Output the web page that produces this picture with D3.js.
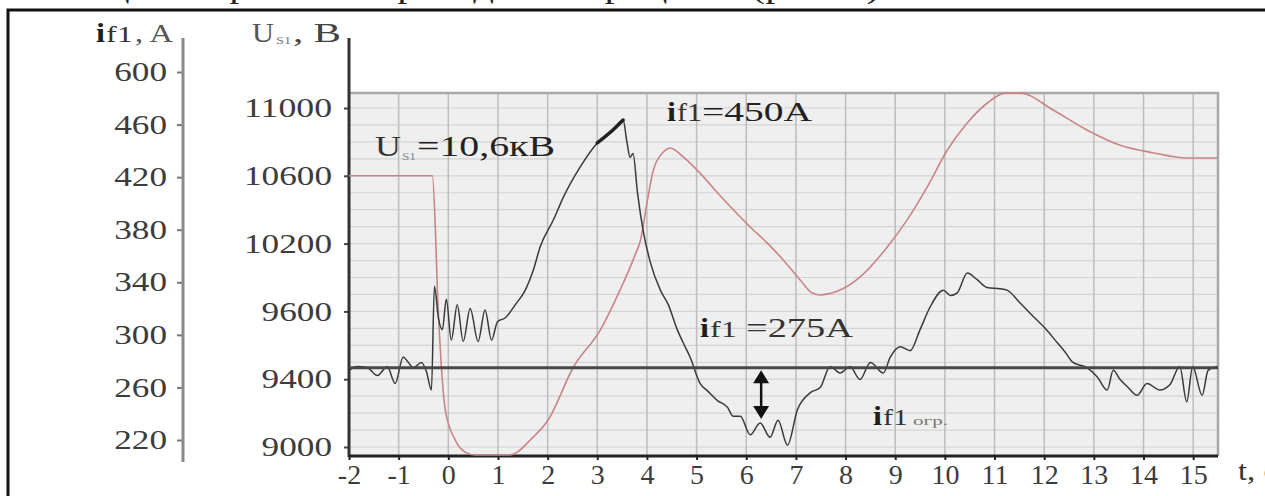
<!DOCTYPE html>
<html lang='ru'>
<head>
<meta charset='UTF-8'/>
<title>D3: i_f1 / U_S1</title>
<script src='https://cdn.jsdelivr.net/npm/d3@7'></script>
<style>
	body {margin: 0; background: #fff;}
	svg {display: block; font-family: 'Liberation Serif', 'DejaVu Serif', serif;}
	.axis text {fill: #3c3c3c;}
</style>
</head>
<body>
<div class='graph'></div>
<script>
	// t, c
	const tTicks = d3.range(-2, 16);
	// U_S1, B  (labels as printed on the scan, evenly spaced)
	const uTicks = [9000, 9400, 9600, 10200, 10600, 11000];
	// i_f1, A
	const iTicks = [220, 260, 300, 340, 380, 420, 460, 600];

	// U_S1 (red)
	const redT = [-2, -0.32, -0.26, -0.22, -0.16, -0.06, 0.14, 0.34, 0.54, 1.25, 1.39, 1.65, 2.01, 2.52, 3.06,
		3.46, 3.76, 3.87, 4.01, 4.13, 4.33, 4.47, 4.73, 5.07, 5.42, 5.74, 6.08, 6.42, 6.78, 7.09, 7.33,
		7.49, 7.65, 7.89, 8.29, 8.84, 9.24, 9.64, 10.05, 10.45, 10.85, 11.21, 11.52, 12.18, 12.86,
		13.53, 14.19, 14.88, 15.48];
	const redU = [10600, 10600, 10280, 9792, 9486, 9218, 9041, 8970, 8953, 8953, 8970, 9041, 9159, 9436, 9545,
		9790, 10098, 10220, 10456, 10634, 10740, 10764, 10712, 10616, 10500, 10400, 10298, 10204, 10038, 9876, 9762,
		9745, 9755, 9790, 9904, 10170, 10340, 10532, 10752, 10912, 11028, 11088, 11088, 10988, 10870,
		10780, 10736, 10705, 10705];

	// i_f1 (black)
	const blackT = [-2, -1.83, -1.63, -1.43, -1.23, -1.07, -0.91, -0.70, -0.54, -0.44, -0.34, -0.28, -0.20, -0.12,
		-0.04, 0.06, 0.18, 0.30, 0.44, 0.60, 0.74, 0.87, 0.99, 1.15, 1.35, 1.55, 1.71, 1.85, 2.11, 2.32, 2.66,
		3.00, 3.32, 3.52, 3.60, 3.66, 3.72, 3.81, 3.93, 4.07, 4.27, 4.43, 4.61, 4.73, 4.87, 5.07, 5.23, 5.42,
		5.62, 5.74, 5.88, 6.08, 6.28, 6.48, 6.64, 6.83, 7.03, 7.29, 7.49, 7.69, 7.89, 8.09, 8.29, 8.50, 8.76,
		8.90, 9.10, 9.30, 9.50, 9.70, 9.97, 10.11, 10.25, 10.45, 10.65, 10.85, 11.11, 11.25, 11.52, 11.78,
		12.02, 12.22, 12.42, 12.58, 12.86, 13.07, 13.27, 13.39, 13.53, 13.69, 13.87, 14.07, 14.33, 14.53,
		14.73, 14.87, 14.99, 15.18, 15.30, 15.48];
	const blackI = [273, 276, 275, 269, 276, 263, 283, 275, 279, 272, 258, 337, 313, 304,
		327, 296, 323, 295, 320, 295, 319, 296, 310, 313, 323, 334, 349, 367, 387, 405, 428,
		446, 456, 472, 446, 435, 438, 408, 378, 355, 334, 323, 304, 294, 283, 263, 257, 250,
		245, 238, 238, 224, 233, 222, 235, 216, 243, 256, 260, 276, 271, 276, 266, 279, 271,
		283, 291, 288, 304, 321, 334, 330, 332, 347, 342, 336, 335, 334, 324, 314,
		305, 296, 287, 279, 275, 268, 258, 273, 266, 260, 254, 263, 258, 262,
		276, 249, 276, 254, 273, 276];

	// reference level and the arrow to i_f1 огр.
	const iRef = 275;
	const arrowT = 6.3;
	const arrowI = [273, 236];

	var width = 1265, height = 496;
	var plot = {left: 349, right: 1218, top: 93, bottom: 456};

	var svg = d3.select('.graph')
		.append('svg')
		.attr('width', width)
		.attr('height', height);

	// scales
	const x = d3.scaleLinear().domain([-2, 15.5]).range([plot.left, plot.right]);
	const uIdx = d3.scaleLinear().domain([0, uTicks.length - 1]).range([447, 108]);
	const yU = d3.scaleLinear().domain(uTicks).range(uTicks.map((d, i) => uIdx(i)));
	const iIdx = d3.scaleLinear().domain([0, iTicks.length - 1]).range([440, 72]);
	const yI = d3.scaleLinear().domain(iTicks).range(iTicks.map((d, i) => iIdx(i)));

	// cut caption line above the frame
	svg.append('text')
		.attr('x', 60).attr('y', -2)
		.attr('textLength', 820).attr('lengthAdjust', 'spacingAndGlyphs')
		.style('font-size', '30px').attr('fill', '#222')
		.text('Осциллограммы переходного процесса (рис. 4)');

	// outer frame
	svg.append('rect')
		.attr('x', 8).attr('y', 10)
		.attr('width', width + 20).attr('height', height + 20)
		.attr('fill', 'none').attr('stroke', '#111').attr('stroke-width', 3);

	// plot background + grid
	svg.append('rect')
		.attr('x', plot.left).attr('y', plot.top)
		.attr('width', plot.right - plot.left).attr('height', plot.bottom - plot.top)
		.attr('fill', '#efefef');

	svg.append('g').selectAll('line')
		.data(d3.range(0, 5.01, 0.25))
		.join('line')
		.attr('x1', plot.left).attr('x2', plot.right)
		.attr('y1', d => uIdx(d)).attr('y2', d => uIdx(d))
		.attr('stroke', '#d4d4d4').attr('stroke-width', 1.2);

	svg.append('g').selectAll('line')
		.data(tTicks.slice(1))
		.join('line')
		.attr('x1', d => x(d)).attr('x2', d => x(d))
		.attr('y1', plot.top).attr('y2', plot.bottom)
		.attr('stroke', '#bdbdbd').attr('stroke-width', 1.5);

	// top and right border of the grid
	svg.append('path')
		.attr('d', `M${plot.left},${plot.top}H${plot.right}V${plot.bottom}`)
		.attr('fill', 'none').attr('stroke', '#a8a8a8').attr('stroke-width', 2.5);

	// clip for curves
	svg.append('clipPath').attr('id', 'clip')
		.append('rect')
		.attr('x', plot.left).attr('y', plot.top - 2)
		.attr('width', plot.right - plot.left).attr('height', plot.bottom - plot.top + 2);

	// stretch tick labels a bit, like the scan
	function stretch(sel, perChar) {
		sel.each(function () {
			let t = d3.select(this);
			let n = t.text().length;
			t.attr('textLength', n * perChar).attr('lengthAdjust', 'spacingAndGlyphs');
		});
	}

	// i_f1 axis (left, grey)
	let gI = svg.append('g')
		.attr('class', 'axis')
		.attr('transform', 'translate(183,0)')
		.call(d3.axisLeft(yI).tickValues(iTicks).tickSize(6).tickPadding(10).tickFormat(d => String(d)));
	gI.select('.domain').remove();
	gI.selectAll('line').attr('stroke', '#777').attr('stroke-width', 2);
	gI.selectAll('text').style('font-size', '27px').attr('font-family', 'Liberation Serif');
	stretch(gI.selectAll('text'), 17.6);
	svg.append('line')
		.attr('x1', 183).attr('x2', 183).attr('y1', 38).attr('y2', 462)
		.attr('stroke', '#8a8a8a').attr('stroke-width', 3);

	// U_S1 axis (left of grid)
	let gU = svg.append('g')
		.attr('class', 'axis')
		.attr('transform', 'translate(' + plot.left + ',0)')
		.call(d3.axisLeft(yU).tickValues(uTicks).tickSize(5).tickPadding(12).tickFormat(d => String(d)));
	gU.select('.domain').remove();
	gU.selectAll('line').attr('stroke', '#444').attr('stroke-width', 2);
	gU.selectAll('text').style('font-size', '27px').attr('font-family', 'Liberation Serif');
	stretch(gU.selectAll('text'), 17.6);
	svg.append('line')
		.attr('x1', plot.left).attr('x2', plot.left).attr('y1', 38).attr('y2', 457)
		.attr('stroke', '#333').attr('stroke-width', 3);

	// t axis
	let gT = svg.append('g')
		.attr('class', 'axis')
		.attr('transform', 'translate(0,' + plot.bottom + ')')
		.call(d3.axisBottom(x).tickValues(tTicks).tickSize(4).tickPadding(4).tickFormat(d => String(d)));
	gT.select('.domain').remove();
	gT.selectAll('line').attr('stroke', '#222').attr('stroke-width', 2);
	gT.selectAll('text').style('font-size', '28px').attr('font-family', 'Liberation Serif');
	svg.append('line')
		.attr('x1', plot.left).attr('x2', plot.right)
		.attr('y1', plot.bottom).attr('y2', plot.bottom)
		.attr('stroke', '#222').attr('stroke-width', 3);

	// curves
	let curves = svg.append('g').attr('clip-path', 'url(#clip)');

	let red = redT.map((t, i) => [t, redU[i]]);
	curves.append('path')
		.datum(red)
		.attr('d', d3.line().x(d => x(d[0])).y(d => yU(d[1])).curve(d3.curveMonotoneX))
		.attr('fill', 'none').attr('stroke', '#c98585').attr('stroke-width', 1.6);

	let black = blackT.map((t, i) => [t, blackI[i]]);
	let blackLine = d3.line().x(d => x(d[0])).y(d => yI(d[1])).curve(d3.curveMonotoneX);
	curves.append('path')
		.datum(black)
		.attr('d', blackLine)
		.attr('fill', 'none').attr('stroke', '#3a3a3a').attr('stroke-width', 1.5)
		.attr('stroke-linejoin', 'round');
	// noisy, heavier stretch before the peak
	curves.append('path')
		.datum(black.filter(d => d[0] >= 2.9 && d[0] <= 3.55))
		.attr('d', blackLine)
		.attr('fill', 'none').attr('stroke', '#222').attr('stroke-width', 3.5)
		.attr('stroke-linecap', 'round');

	// i_f1 = 275 A level
	svg.append('line')
		.attr('x1', plot.left).attr('x2', plot.right)
		.attr('y1', yI(iRef)).attr('y2', yI(iRef))
		.attr('stroke', '#484848').attr('stroke-width', 3);

	// double arrow
	let ax = x(arrowT), a0 = yI(arrowI[0]), a1 = yI(arrowI[1]);
	svg.append('line')
		.attr('x1', ax).attr('x2', ax).attr('y1', a0 + 8).attr('y2', a1 - 8)
		.attr('stroke', '#111').attr('stroke-width', 2.5);
	svg.append('path')
		.attr('d', `M${ax},${a0}l-8,13h16z M${ax},${a1}l-8,-13h16z`)
		.attr('fill', '#111');

	// text helper: one piece of text with a fixed width
	function txt(x0, y0, s, size, w, opts) {
		opts = opts || {};
		let t = svg.append('text')
			.attr('x', x0).attr('y', y0)
			.style('font-size', size + 'px')
			.attr('fill', opts.fill || '#2e2e2e')
			.attr('font-weight', opts.bold ? 'bold' : 'normal')
			.text(s);
		if (w) t.attr('textLength', w).attr('lengthAdjust', 'spacingAndGlyphs');
		return t;
	}

	// axis titles
	txt(96, 42, 'i', 27, 9, {bold: true, fill: '#1e1e1e'});
	txt(106, 42, 'f1', 24, 27, {fill: '#333'});
	txt(135, 42, ', A', 26, 38, {fill: '#555'});
	txt(252, 42, 'U', 28, 22, {fill: '#555'});
	txt(276, 44, 'S1', 11, 15, {fill: '#777'});
	txt(293, 42, ', B', 28, 48, {fill: '#444'});

	// annotations
	txt(375, 156, 'U', 30, 26, {fill: '#333'});
	txt(402, 160, 'S1', 10, 14, {fill: '#888'});
	txt(417, 156, '=10,6кВ', 30, 138, {fill: '#222'});

	txt(667, 121, 'i', 28, 9, {bold: true, fill: '#1e1e1e'});
	txt(677, 121, 'f1', 25, 25, {fill: '#333'});
	txt(702, 121, '=450A', 28, 110, {fill: '#222'});

	txt(700, 337, 'i', 27, 9, {bold: true, fill: '#1e1e1e'});
	txt(710, 337, 'f1', 24, 27, {fill: '#333'});
	txt(746, 337, '=275A', 27, 107, {fill: '#333'});

	txt(873, 425, 'i', 27, 9, {bold: true, fill: '#1e1e1e'});
	txt(883, 425, 'f1', 24, 25, {fill: '#333'});
	txt(913, 425, 'огр.', 12, 35, {fill: '#777'});

	// t, c
	txt(1238, 480, 't, c', 28, 40, {fill: '#333'});
</script>
</body>
</html>
